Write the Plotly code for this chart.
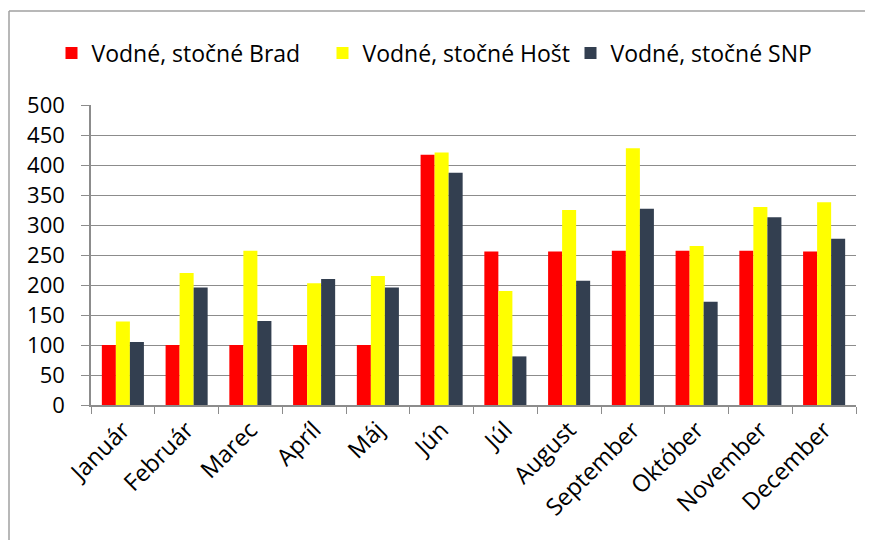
import plotly.graph_objects as go

# months and monthly values
mesiace = ["Január", "Február", "Marec", "Apríl", "Máj", "Jún", "Júl",
           "August", "September", "Október", "November", "December"]
brad = [100, 100, 100, 100, 100, 417, 256, 256, 257, 257, 257, 256]
host = [139, 220, 257, 203, 215, 421, 190, 325, 428, 265, 330, 338]
snp = [105, 196, 140, 210, 196, 387, 81, 207, 327, 172, 313, 277]
y_ticks = [0, 50, 100, 150, 200, 250, 300, 350, 400, 450, 500]

font = "Open Sans, Liberation Sans, Arial, sans-serif"

# page is drawn with an 8px body margin, so work in shifted pixels
OFF = 8
W, H = 873 - OFF, 540 - OFF
L, R, T, B = 91 - OFF, 856 - OFF, 105 - OFF, 405 - OFF


def px_x(x):
    return (x - OFF - L) / (R - L)


def px_y(y):
    return (B - (y - OFF)) / (B - T)


fig = go.Figure()
fig.add_trace(go.Bar(x=mesiace, y=brad, name="Vodné, stočné Brad",
                     legend="legend", showlegend=True,
                     marker=dict(color="#FF0000", line=dict(width=0))))
fig.add_trace(go.Bar(x=mesiace, y=host, name="Vodné, stočné Hošt",
                     legend="legend2", showlegend=True,
                     marker=dict(color="#FFFF00", line=dict(width=0))))
fig.add_trace(go.Bar(x=mesiace, y=snp, name="Vodné, stočné SNP",
                     legend="legend3", showlegend=True,
                     marker=dict(color="#333F50", line=dict(width=0))))

# frame around the chart (cut at the right and bottom of the picture)
frame = dict(color="#A0A0A0", width=1.5)
fig.add_shape(type="line", xref="paper", yref="paper",
              x0=px_x(9), x1=px_x(9), y0=px_y(11), y1=px_y(560), line=frame)
fig.add_shape(type="line", xref="paper", yref="paper",
              x0=px_x(9), x1=px_x(890), y0=px_y(11), y1=px_y(11), line=frame)


def leg(sq_center):
    # one legend per series, placed by the centre of its colour square
    return dict(orientation="h", xref="container", yref="container",
                x=(sq_center - OFF - 20) / W, y=1 - (53 - OFF) / H,
                xanchor="left", yanchor="middle",
                bgcolor="rgba(0,0,0,0)", font=dict(size=23))


fig.update_layout(
    width=W, height=H, showlegend=True,
    margin=dict(l=L, r=W - R, t=T, b=H - B, autoexpand=False),
    plot_bgcolor="white", paper_bgcolor="white",
    barmode="group", bargap=0.34, bargroupgap=0,
    font=dict(family=font, size=23, color="black"),
    legend=leg(71.5), legend2=leg(342.5), legend3=leg(590.5),
    xaxis=dict(showline=True, linecolor="#8C8C8C", linewidth=1.5,
               ticks="outside", tickson="boundaries", ticklen=7,
               tickcolor="#8C8C8C", tickangle=-45,
               tickfont=dict(size=23.5)),
    yaxis=dict(range=[0, 500], tickvals=y_ticks, showgrid=True,
               gridcolor="#8C8C8C", gridwidth=1.2,
               showline=True, linecolor="#8C8C8C", linewidth=1.5,
               ticks="outside", ticklen=8, tickcolor="#8C8C8C",
               ticklabelstandoff=12,
               tickfont=dict(size=22), zeroline=False),
)

fig.write_html("out.html")
